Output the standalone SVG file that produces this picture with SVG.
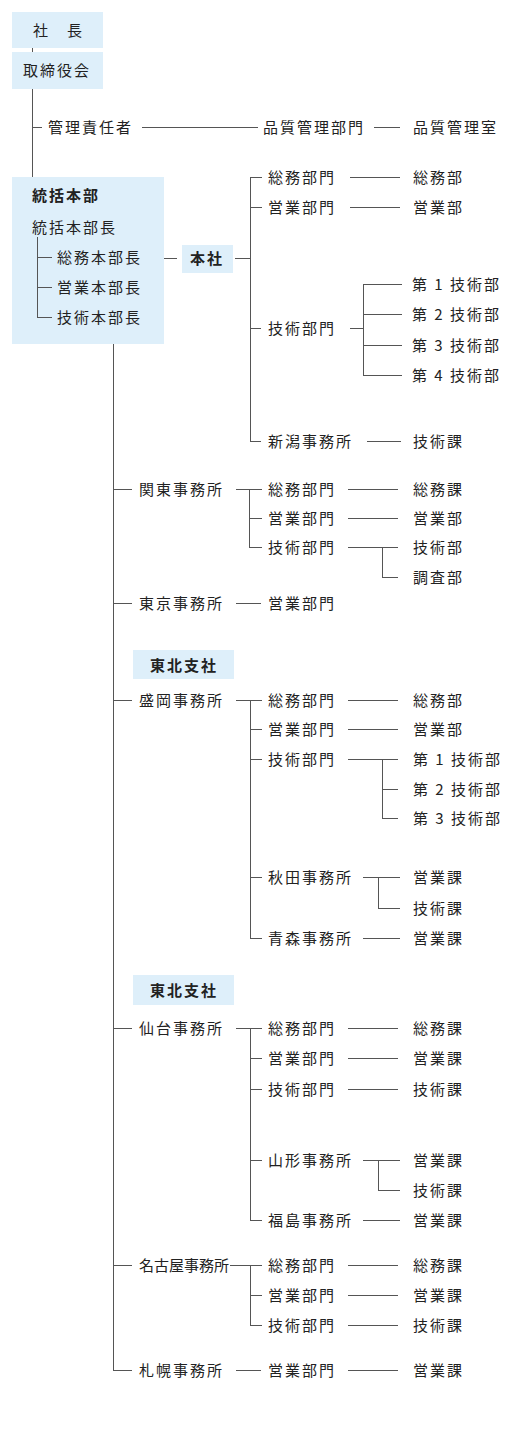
<svg xmlns="http://www.w3.org/2000/svg" width="520" height="1429" viewBox="0 0 520 1429">
<style>
text{font-family:"Noto Sans CJK JP","Noto Sans CJK SC",sans-serif;font-size:15px;fill:#222;letter-spacing:2px}
.b{font-weight:bold}
.box{fill:#deeffa}
.c path{fill:none;stroke:#555;stroke-width:1;shape-rendering:crispEdges}
</style>
<rect width="520" height="1429" fill="#fff"/>
<g id="shacho"><rect class="box" x="12" y="12" width="91" height="36"/><text x="33" y="35.5">社　長</text></g>
<g id="torishimariyakukai"><rect class="box" x="12" y="52" width="91" height="37"/><text x="23" y="75.5">取締役会</text></g>
<g id="kanri"><text x="48" y="132.5">管理責任者</text></g>
<g id="hinshitsu-bumon"><text x="263" y="132.5">品質管理部門</text></g>
<g id="hinshitsu-shitsu"><text x="413" y="132.5">品質管理室</text></g>
<g id="tokatsu">
<rect class="box" x="12" y="177" width="152" height="167"/>
<text class="b" x="32" y="200.5">統括本部</text>
<text x="32" y="232.5">統括本部長</text>
<text x="57" y="262.5">総務本部長</text>
<text x="57" y="292.5">営業本部長</text>
<text x="57" y="322.5">技術本部長</text>
</g>
<g id="honsha"><rect class="box" x="182" y="245" width="51" height="28"/><text class="b" x="190" y="263.5">本社</text></g>
<g id="honsha-units">
<text x="268" y="182.5">総務部門</text><text x="413" y="182.5">総務部</text>
<text x="268" y="212.5">営業部門</text><text x="413" y="212.5">営業部</text>
<text x="268" y="333.5">技術部門</text>
<text x="412" y="289.5">第 1 技術部</text>
<text x="412" y="319.5">第 2 技術部</text>
<text x="412" y="350.5">第 3 技術部</text>
<text x="412" y="380.5">第 4 技術部</text>
<text x="268" y="446.5">新潟事務所</text><text x="413" y="446.5">技術課</text>
</g>
<g id="kanto">
<text x="139" y="494.5">関東事務所</text>
<text x="268" y="494.5">総務部門</text><text x="413" y="494.5">総務課</text>
<text x="268" y="523.5">営業部門</text><text x="413" y="523.5">営業部</text>
<text x="268" y="552.5">技術部門</text><text x="413" y="552.5">技術部</text>
<text x="413" y="582.5">調査部</text>
</g>
<g id="tokyo">
<text x="139" y="608.5">東京事務所</text><text x="268" y="608.5">営業部門</text>
</g>
<g id="tohoku1"><rect class="box" x="133" y="650" width="101" height="29"/><text class="b" x="150" y="670.5">東北支社</text></g>
<g id="morioka">
<text x="139" y="705.5">盛岡事務所</text>
<text x="268" y="705.5">総務部門</text><text x="413" y="705.5">総務部</text>
<text x="268" y="734.5">営業部門</text><text x="413" y="734.5">営業部</text>
<text x="268" y="764.5">技術部門</text>
<text x="413" y="764.5">第 1 技術部</text>
<text x="413" y="794.5">第 2 技術部</text>
<text x="413" y="823.5">第 3 技術部</text>
<text x="268" y="882.5">秋田事務所</text><text x="413" y="882.5">営業課</text>
<text x="413" y="913.5">技術課</text>
<text x="268" y="943.5">青森事務所</text><text x="413" y="943.5">営業課</text>
</g>
<g id="tohoku2"><rect class="box" x="133" y="975" width="101" height="30"/><text class="b" x="150" y="995.5">東北支社</text></g>
<g id="sendai">
<text x="139" y="1033.5">仙台事務所</text>
<text x="268" y="1033.5">総務部門</text><text x="413" y="1033.5">総務課</text>
<text x="268" y="1063.5">営業部門</text><text x="413" y="1063.5">営業課</text>
<text x="268" y="1094.5">技術部門</text><text x="413" y="1094.5">技術課</text>
<text x="268" y="1165.5">山形事務所</text><text x="413" y="1165.5">営業課</text>
<text x="413" y="1195.5">技術課</text>
<text x="268" y="1225.5">福島事務所</text><text x="413" y="1225.5">営業課</text>
</g>
<g id="nagoya">
<text x="139" y="1270.5" style="letter-spacing:0">名古屋事務所</text>
<text x="268" y="1270.5">総務部門</text><text x="413" y="1270.5">総務課</text>
<text x="268" y="1300.5">営業部門</text><text x="413" y="1300.5">営業課</text>
<text x="268" y="1330.5">技術部門</text><text x="413" y="1330.5">技術課</text>
</g>
<g id="sapporo">
<text x="139" y="1375.5">札幌事務所</text>
<text x="268" y="1375.5">営業部門</text><text x="413" y="1375.5">営業課</text>
</g>
<g class="c" id="connectors">
<path d="M32.5 48V52M32.5 89V177M32 127.5H42M142 127.5H258M374 127.5H400"/>
<path d="M37.5 237V317.5H52M37 257.5H52M37 287.5H52"/>
<path d="M164 258.5H177M235 258.5H250"/>
<path d="M262 177.5H250.5V441.5H261M250 207.5H262M250 328.5H261M350 177.5H400M350 207.5H400"/>
<path d="M350 328.5H363M402 284.5H363.5V375.5H402M363 314.5H402M363 345.5H402M367 441.5H401"/>
<path d="M113.5 344V1370.5H132M113 489.5H132M113 603.5H132M113 700.5H132M113 1028.5H132M113 1265.5H132"/>
<path d="M236 489.5H262M249.5 489V547.5H262M249 518.5H262M348 489.5H398M348 518.5H398M348 547.5H398M382.5 547V577.5H398"/>
<path d="M236 603.5H261"/>
<path d="M236 700.5H262M250.5 700V938.5H262M250 729.5H262M250 759.5H262M250 877.5H262M348 700.5H398M348 729.5H398M348 759.5H398M382.5 759V818.5H398M382 789.5H398"/>
<path d="M363 877.5H400M378.5 877V908.5H400M363 938.5H400"/>
<path d="M236 1028.5H262M250.5 1028V1220.5H262M250 1058.5H262M250 1089.5H262M250 1160.5H262M348 1028.5H398M348 1058.5H398M348 1089.5H398"/>
<path d="M363 1160.5H400M378.5 1160V1190.5H400M363 1220.5H400"/>
<path d="M230 1265.5H262M250.5 1265V1325.5H262M250 1295.5H262M348 1265.5H398M348 1295.5H398M348 1325.5H398"/>
<path d="M236 1370.5H261M348 1370.5H398"/>
</g>
</svg>
